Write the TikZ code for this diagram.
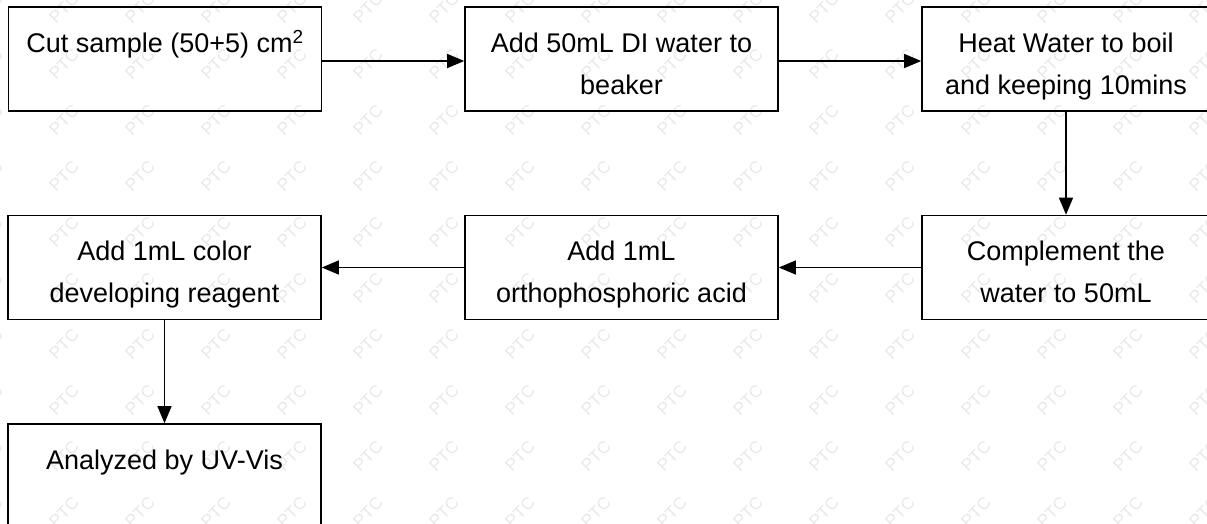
\documentclass[tikz,border=0pt]{standalone}
\usepackage{fontspec}
\setmainfont{Liberation Sans}
\usetikzlibrary{arrows.meta}
\tikzset{
  stepbox/.style={draw=black, line width=1.6pt, inner sep=0pt,
    minimum width=313pt, minimum height=104pt},
  narrowbox/.style={stepbox, minimum width=288pt},
  boxtext/.style={anchor=base, inner sep=0pt,
    font=\fontsize{27}{42}\selectfont},
  arr/.style={draw=black, line width=1.3pt,
    -{Triangle[length=17pt, width=14pt]}},
  wm/.style={rotate=45, inner sep=0pt, text=black!9,
    font=\fontsize{17}{17}\selectfont}
}
\newcommand{\twolines}[2]{\begin{tabular}[t]{@{}c@{}}#1\\#2\end{tabular}}
\begin{document}
\begin{tikzpicture}[x=1pt, y=-1pt]
\useasboundingbox (0,0) rectangle (1207,524);
\clip (0,0) rectangle (1207,524);
% watermark
\foreach \i in {0,...,16}{
  \foreach \j in {0,...,9}{
    \node[wm] (wm-\i-\j) at (-12+76*\i, 8+56*\j) {PTC};
  }
}
% boxes
\node[stepbox]   (b1) at (165,59) {};
\node[stepbox]   (b2) at (621.5,59) {};
\node[narrowbox] (b3) at (1066,59) {};
\node[narrowbox] (b4) at (1066,267.5) {};
\node[stepbox]   (b5) at (621.5,267.5) {};
\node[stepbox]   (b6) at (164.5,267.5) {};
\node[stepbox]   (b7) at (164.5,476) {};
% texts
\node[boxtext] (t1) at ([yshift=-46pt]b1.north) {Cut sample (50+5) cm\textsuperscript{2}};
\node[boxtext] (t2) at ([yshift=-46pt]b2.north) {\twolines{Add 50mL DI water to}{beaker}};
\node[boxtext] (t3) at ([yshift=-46pt]b3.north) {\twolines{Heat Water to boil}{and keeping 10mins}};
\node[boxtext] (t4) at ([yshift=-46pt]b4.north) {\twolines{Complement the}{water to 50mL}};
\node[boxtext] (t5) at ([yshift=-46pt]b5.north) {\twolines{Add 1mL}{orthophosphoric acid}};
\node[boxtext] (t6) at ([yshift=-46pt]b6.north) {\twolines{Add 1mL color}{developing reagent}};
\node[boxtext] (t7) at ([yshift=-46pt]b7.north) {Analyzed by UV-Vis};
% connectors
\draw[arr] ([yshift=-2pt]b1.east) -- ([yshift=-2pt]b2.west);
\draw[arr] ([yshift=-2pt]b2.east) -- ([yshift=-2pt]b3.west);
\draw[arr] (b3.south) -- (b4.north);
\draw[arr] (b4.west) -- (b5.east);
\draw[arr] (b5.west) -- (b6.east);
\draw[arr] (b6.south) -- (b7.north);
\end{tikzpicture}
\end{document}
